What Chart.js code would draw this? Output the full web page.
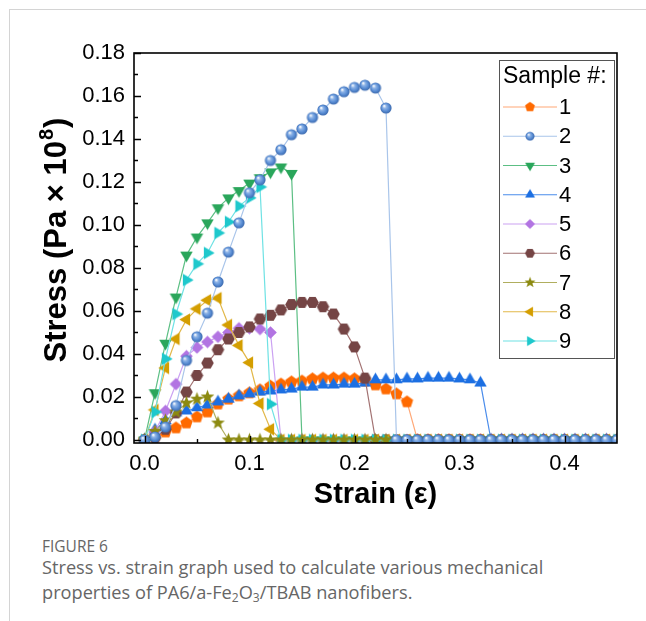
<!DOCTYPE html>
<html>
<head>
<meta charset="utf-8">
<title>Stress vs strain</title>
<script src="https://cdn.jsdelivr.net/npm/chart.js@4.4.1/dist/chart.umd.min.js"></script>
<style>
  body { margin: 0; background: #fff; }
  #frame { position: absolute; left: 9px; top: 9px; width: 700px; height: 700px;
           border-left: 1px solid #d4d4d4; border-top: 1px solid #d4d4d4; }
  #chart { position: absolute; left: 0; top: 0; }
  #cap { position: absolute; left: 42px; top: 535px; font-family: "Open Sans", sans-serif; color: #666; }
  #cap .fig { font-size: 15.5px; line-height: 22px; }
  #cap .txt { font-size: 18.2px; line-height: 25px; margin-top: -2px; }
  #cap sub { font-size: 12px; vertical-align: -3px; line-height: 0; }
</style>
</head>
<body>
<div id="frame"></div>
<canvas id="chart" width="646" height="530"></canvas>
<div id="cap">
  <div class="fig">FIGURE 6</div>
  <div class="txt">Stress vs. strain graph used to calculate various mechanical<br>properties of PA6/a-Fe<sub>2</sub>O<sub>3</sub>/TBAB nanofibers.</div>
</div>
<script>
// strain (x) shared by every sample
var strain = [0, 0.01, 0.02, 0.03, 0.04, 0.05, 0.06, 0.07, 0.08, 0.09,
  0.10, 0.11, 0.12, 0.13, 0.14, 0.15, 0.16, 0.17, 0.18, 0.19,
  0.20, 0.21, 0.22, 0.23, 0.24, 0.25, 0.26, 0.27, 0.28, 0.29,
  0.30, 0.31, 0.32, 0.33, 0.34, 0.35, 0.36, 0.37, 0.38, 0.39,
  0.40, 0.41, 0.42, 0.43, 0.44, 0.45];

// stress values (Pa x 10^8)
var sample1 = [0, 0.0019, 0.0037, 0.0056, 0.0079, 0.0107, 0.013, 0.0167, 0.019, 0.0205,
  0.0219, 0.0233, 0.025, 0.026, 0.027, 0.0274, 0.0284, 0.0288, 0.0288, 0.0288,
  0.0284, 0.0274, 0.0256, 0.0237, 0.0214, 0.0177, 0, 0, 0, 0,
  0, 0, 0, 0, 0, 0, 0, 0, 0, 0,
  0, 0, 0, 0, 0, 0];
var sample2 = [0, 0.0014, 0.006, 0.016, 0.037, 0.048, 0.059, 0.0735, 0.0874, 0.101,
  0.115, 0.121, 0.130, 0.135, 0.142, 0.1447, 0.150, 0.1535, 0.1586, 0.162,
  0.164, 0.165, 0.1637, 0.1544, 0, 0, 0, 0, 0, 0,
  0, 0, 0, 0, 0, 0, 0, 0, 0, 0,
  0, 0, 0, 0, 0, 0];
var sample3 = [0, 0.022, 0.045, 0.0665, 0.086, 0.0944, 0.101, 0.108, 0.1126, 0.116,
  0.1195, 0.122, 0.1247, 0.127, 0.124, 0, 0, 0, 0, 0,
  0, 0, 0, 0, 0, 0, 0, 0, 0, 0,
  0, 0, 0, 0, 0, 0, 0, 0, 0, 0,
  0, 0, 0, 0, 0, 0];
var sample4 = [0, 0.0047, 0.009, 0.0126, 0.0135, 0.015, 0.0163, 0.0177, 0.019, 0.0205,
  0.0214, 0.0223, 0.0228, 0.0233, 0.0237, 0.0246, 0.0246, 0.0256, 0.0256, 0.026,
  0.026, 0.0265, 0.028, 0.028, 0.028, 0.0284, 0.0284, 0.0288, 0.0288, 0.0288,
  0.0284, 0.028, 0.0265, 0, 0, 0, 0, 0, 0, 0,
  0, 0, 0, 0, 0, 0];
var sample5 = [0, 0.004, 0.0135, 0.026, 0.039, 0.043, 0.0456, 0.048, 0.050, 0.052,
  0.052, 0.0516, 0.050, 0, 0, 0, 0, 0, 0, 0,
  0, 0, 0, 0, 0, 0, 0, 0, 0, 0,
  0, 0, 0, 0, 0, 0, 0, 0, 0, 0,
  0, 0, 0, 0, 0, 0];
var sample6 = [0, 0.001, 0.005, 0.0126, 0.0223, 0.030, 0.0358, 0.042, 0.047, 0.050,
  0.0526, 0.0563, 0.058, 0.0605, 0.063, 0.064, 0.064, 0.062, 0.0586, 0.0516,
  0.0433, 0.0288, 0, 0, 0, 0, 0, 0, 0, 0,
  0, 0, 0, 0, 0, 0, 0, 0, 0, 0,
  0, 0, 0, 0, 0, 0];
var sample7 = [0, 0.004, 0.009, 0.013, 0.0172, 0.019, 0.020, 0.0079, 0, 0,
  0, 0, 0, 0, 0, 0, 0, 0, 0, 0,
  0, 0, 0, 0];
var sample8 = [0, 0.014, 0.0335, 0.047, 0.056, 0.061, 0.065, 0.066, 0.0535, 0.044,
  0.036, 0.017, 0.005, 0, 0, 0, 0, 0, 0, 0,
  0, 0, 0, 0, 0, 0, 0, 0, 0, 0,
  0, 0, 0, 0, 0, 0, 0, 0, 0, 0,
  0, 0, 0, 0, 0, 0];
var sample9 = [0, 0.013, 0.0377, 0.0586, 0.0744, 0.0819, 0.087, 0.0963, 0.1014, 0.1088,
  0.1126, 0.1177, 0.0167, 0, 0, 0, 0, 0, 0, 0,
  0, 0, 0, 0, 0, 0, 0, 0, 0, 0,
  0, 0, 0, 0, 0, 0, 0, 0, 0, 0,
  0, 0, 0, 0, 0, 0];

var sampleNames = ['1', '2', '3', '4', '5', '6', '7', '8', '9'];
var xMajor = [0, 0.1, 0.2, 0.3, 0.4];
var xMinor = [0.05, 0.15, 0.25, 0.35];
var yMajor = [0, 0.02, 0.04, 0.06, 0.08, 0.10, 0.12, 0.14, 0.16, 0.18];
var yMinor = [0.01, 0.03, 0.05, 0.07, 0.09, 0.11, 0.13, 0.15, 0.17];

var FONT = '"Liberation Sans", Arial, sans-serif';

// marker images (Origin style symbols)
function makeMarker(shape, color, r, dark) {
  var s = Math.ceil(r * 2 + 2);
  var c = document.createElement('canvas');
  c.width = s; c.height = s;
  var g = c.getContext('2d');
  var m = s / 2;
  g.fillStyle = color;
  g.beginPath();
  function poly(n, start, rad) {
    for (var i = 0; i < n; i++) {
      var a = start + i * 2 * Math.PI / n;
      var px = m + rad * Math.cos(a), py = m + rad * Math.sin(a);
      if (i === 0) g.moveTo(px, py); else g.lineTo(px, py);
    }
    g.closePath();
  }
  if (shape === 'sphere') {
    var gr = g.createRadialGradient(m - r * 0.35, m - r * 0.4, r * 0.05, m, m, r);
    gr.addColorStop(0, '#ffffff');
    gr.addColorStop(0.3, '#8fb4e6');
    gr.addColorStop(0.65, color);
    gr.addColorStop(1, dark);
    g.fillStyle = gr;
    g.arc(m, m, r, 0, 2 * Math.PI);
  } else if (shape === 'pentagon') {
    poly(5, -Math.PI / 2, r);
  } else if (shape === 'hexagon') {
    poly(6, 0, r);
  } else if (shape === 'diamond') {
    poly(4, -Math.PI / 2, r);
  } else if (shape === 'up') {
    poly(3, -Math.PI / 2, r);
  } else if (shape === 'down') {
    poly(3, Math.PI / 2, r);
  } else if (shape === 'left') {
    poly(3, Math.PI, r);
  } else if (shape === 'right') {
    poly(3, 0, r);
  } else if (shape === 'star') {
    for (var i = 0; i < 10; i++) {
      var a = -Math.PI / 2 + i * Math.PI / 5;
      var rr = i % 2 ? r * 0.42 : r;
      var px = m + rr * Math.cos(a), py = m + rr * Math.sin(a);
      if (i === 0) g.moveTo(px, py); else g.lineTo(px, py);
    }
    g.closePath();
  }
  g.fill();
  return c;
}

var markers = [
  makeMarker('pentagon', '#ff6a00', 6.5),
  makeMarker('sphere', '#5b8fd6', 5.6, '#3a68ad'),
  makeMarker('down', '#2aa65b', 7.2),
  makeMarker('up', '#1c6fe2', 7.2),
  makeMarker('diamond', '#b274e2', 6.3),
  makeMarker('hexagon', '#754545', 6.3),
  makeMarker('star', '#8c8a10', 7.2),
  makeMarker('left', '#d49e00', 7.2),
  makeMarker('right', '#1ec8cc', 7.2)
];
var lineColors = ['#ffa877', '#a9c5ea', '#5cbf84', '#4a8ceb', '#cba2f2', '#a27272', '#b0ae5e', '#e2b84a', '#6fe2e4'];
var drawOrder = [8, 0, 7, 6, 5, 4, 1, 3, 2];
var allSamples = [sample1, sample2, sample3, sample4, sample5, sample6, sample7, sample8, sample9];

var datasets = allSamples.map(function (s, k) {
  return {
    label: sampleNames[k],
    data: s.map(function (v, i) { return { x: strain[i], y: v }; }),
    borderColor: lineColors[k],
    borderWidth: 1.2,
    pointStyle: markers[k],
    pointRadius: 6,
    pointHoverRadius: 6,
    pointBorderWidth: 0,
    tension: 0,
    clip: 0,
    order: drawOrder[k]
  };
});

var axesPlugin = {
  id: 'axesPlugin',
  afterDatasetsDraw: function (chart) {
    var c = chart.ctx, a = chart.chartArea;
    var xs = chart.scales.x, ys = chart.scales.y;
    c.save();
    c.strokeStyle = '#000';
    c.lineWidth = 1.6;
    c.strokeRect(a.left, a.top, a.right - a.left, a.bottom - a.top);
    c.lineWidth = 1.4;
    c.beginPath();
    yMajor.forEach(function (v) { var p = Math.round(ys.getPixelForValue(v)) + 0.5; c.moveTo(a.left, p); c.lineTo(a.left + 7, p); });
    yMinor.forEach(function (v) { var p = Math.round(ys.getPixelForValue(v)) + 0.5; c.moveTo(a.left, p); c.lineTo(a.left + 4, p); });
    xMajor.forEach(function (v) { var p = Math.round(xs.getPixelForValue(v)) + 0.5; c.moveTo(p, a.bottom); c.lineTo(p, a.bottom - 7); });
    xMinor.forEach(function (v) { var p = Math.round(xs.getPixelForValue(v)) + 0.5; c.moveTo(p, a.bottom); c.lineTo(p, a.bottom - 4); });
    c.stroke();
    c.restore();
  },
  afterDraw: function (chart) {
    var c = chart.ctx, a = chart.chartArea;
    c.save();
    c.fillStyle = '#000';
    // x title
    c.font = 'bold 29px ' + FONT;
    c.textAlign = 'center';
    c.textBaseline = 'middle';
    c.fillText('Strain (\u03b5)', (a.left + a.right) / 2, 495);
    // y title with superscript
    c.translate(57, 241);
    c.rotate(-Math.PI / 2);
    var t1 = 'Stress (Pa \u00d7 10', t2 = '8', t3 = ')';
    c.font = 'bold 31px ' + FONT;
    var w1 = c.measureText(t1).width, w3 = c.measureText(t3).width;
    c.font = 'bold 20px ' + FONT;
    var w2 = c.measureText(t2).width;
    var x0 = -(w1 + w2 + w3) / 2;
    c.textAlign = 'left';
    c.font = 'bold 31px ' + FONT;
    c.fillText(t1, x0, 0);
    c.font = 'bold 20px ' + FONT;
    c.fillText(t2, x0 + w1 + 1, -10);
    c.font = 'bold 31px ' + FONT;
    c.fillText(t3, x0 + w1 + w2 + 2, 0);
    c.restore();

    // legend box
    c.save();
    c.strokeStyle = '#555';
    c.lineWidth = 1;
    c.strokeRect(499.5, 60.5, 115, 298);
    c.fillStyle = '#000';
    c.textBaseline = 'middle';
    c.textAlign = 'left';
    c.font = '23px ' + FONT;
    c.fillText('Sample #:', 503, 77);
    c.font = '22px ' + FONT;
    chart.data.datasets.forEach(function (ds, i) {
      var y = 107 + i * 29.25;
      c.strokeStyle = ds.borderColor;
      c.lineWidth = 1.2;
      c.beginPath();
      c.moveTo(503, y); c.lineTo(557, y);
      c.stroke();
      var img = ds.pointStyle, sc = 0.8;
      c.drawImage(img, 530 - img.width * sc / 2, y - img.height * sc / 2, img.width * sc, img.height * sc);
      c.fillText(ds.label, 559, y + 1);
    });
    c.restore();
  }
};

new Chart(document.getElementById('chart'), {
  type: 'line',
  data: { datasets: datasets },
  options: {
    responsive: false,
    animation: false,
    events: [],
    layout: { padding: { top: 53, right: 29, left: 0, bottom: 0 } },
    plugins: { legend: { display: false }, tooltip: { enabled: false } },
    scales: {
      x: {
        type: 'linear', min: -0.01, max: 0.45,
        grid: { display: false, drawTicks: false }, border: { display: false },
        ticks: { color: '#000', font: { family: FONT, size: 22 }, padding: 8, maxRotation: 0,
                 callback: function (v) { return v.toFixed(1); } },
        afterBuildTicks: function (s) { s.ticks = xMajor.map(function (v) { return { value: v }; }); },
        afterFit: function (s) { s.height = 87; }
      },
      y: {
        type: 'linear', min: -0.0014, max: 0.18,
        grid: { display: false, drawTicks: false }, border: { display: false },
        ticks: { color: '#000', font: { family: FONT, size: 22 }, padding: 9,
                 callback: function (v) { return v.toFixed(2); } },
        afterBuildTicks: function (s) { s.ticks = yMajor.map(function (v) { return { value: v }; }); },
        afterFit: function (s) { s.width = 134; }
      }
    }
  },
  plugins: [axesPlugin]
});
</script>
</body>
</html>
